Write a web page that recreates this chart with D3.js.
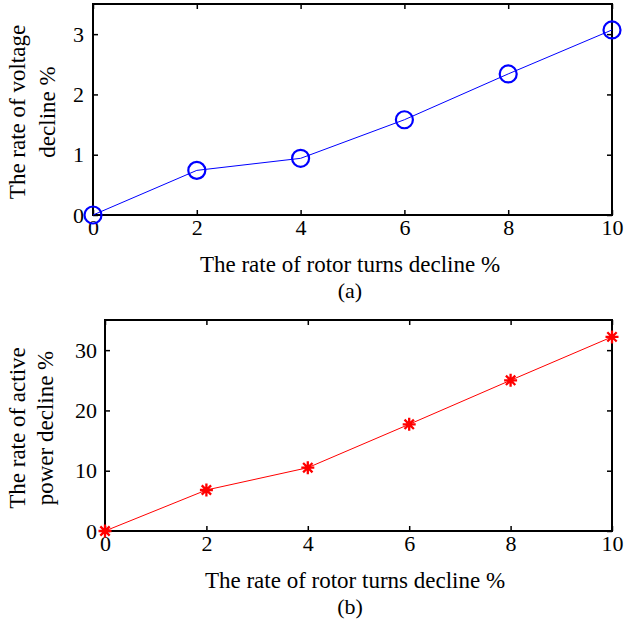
<!DOCTYPE html>
<html><head><meta charset="utf-8">
<script src="https://cdn.jsdelivr.net/npm/d3@7"></script>
<style>
body{margin:0;background:#fff;}
text{font-family:"Liberation Serif","Times New Roman",serif;}
</style></head>
<body><svg id="c" width="625" height="621"></svg>
<script>
const xValues = [0, 2, 4, 6, 8, 10];
const voltageDecline = [0, 0.74, 0.94, 1.58, 2.34, 3.07];
const powerDecline = [0, 6.8, 10.5, 17.7, 25.0, 32.2];
const xTicks = [0, 2, 4, 6, 8, 10];
const yTicksA = [0, 1, 2, 3];
const yTicksB = [0, 10, 20, 30];
const xTitle = "The rate of rotor turns decline %";

const svg = d3.select("#c");

function panel(cfg){
  const g = svg.append("g");
  const x = d3.scaleLinear().domain([0,10]).range([cfg.left, 612]);
  const y = d3.scaleLinear().domain(cfg.yDomain).range([cfg.bottom, cfg.top]);
  const fs = 22;
  g.append("rect").attr("x", cfg.left).attr("y", cfg.top)
    .attr("width", 612-cfg.left).attr("height", cfg.bottom-cfg.top)
    .attr("fill","none").attr("stroke","#000").attr("stroke-width",2);
  const xa = g.append("g").attr("transform",`translate(0,${cfg.bottom})`)
    .call(d3.axisBottom(x).tickValues(xTicks).tickFormat(d3.format("d")).tickSizeInner(-5).tickSizeOuter(0).tickPadding(4));
  const xt = g.append("g").attr("transform",`translate(0,${cfg.top})`)
    .call(d3.axisTop(x).tickValues(xTicks).tickSizeInner(-5).tickSizeOuter(0).tickFormat(""));
  const ya = g.append("g").attr("transform",`translate(${cfg.left},0)`)
    .call(d3.axisLeft(y).tickValues(cfg.yTicks).tickFormat(d3.format("d")).tickSizeInner(-5).tickSizeOuter(0).tickPadding(cfg.ypad));
  const yr = g.append("g").attr("transform",`translate(612,0)`)
    .call(d3.axisRight(y).tickValues(cfg.yTicks).tickSizeInner(-5).tickSizeOuter(0).tickFormat(""));
  [xa,xt,ya,yr].forEach(a=>{
    a.select(".domain").remove();
    a.selectAll(".tick line").attr("stroke","#000").attr("stroke-width",1.5);
    a.selectAll("text").attr("fill","#000").style("font-size",fs+"px")
      .style("font-family",'"Liberation Serif","Times New Roman",serif');
  });
  const pts = xValues.map((v,i)=>[v,cfg.values[i]]);
  g.append("path").datum(pts)
    .attr("d", d3.line().x(d=>x(d[0])).y(d=>y(d[1])))
    .attr("fill","none").attr("stroke",cfg.color).attr("stroke-width",1);
  if(cfg.marker==="circle"){
    g.selectAll("circle.m").data(pts).join("circle")
      .attr("cx",d=>x(d[0])).attr("cy",d=>y(d[1])).attr("r",8.5)
      .attr("fill","none").attr("stroke",cfg.color).attr("stroke-width",2.2);
  } else {
    const s = 6.5;
    const k = s*0.72;
    const star = `M${-s},0L${s},0M0,${-s}L0,${s}M${-k},${-k}L${k},${k}M${-k},${k}L${k},${-k}`;
    g.selectAll("path.m").data(pts).join("path").attr("class","m")
      .attr("transform",d=>`translate(${x(d[0])},${y(d[1])})`)
      .attr("d",star).attr("stroke",cfg.color).attr("stroke-width",2.3).attr("fill","none");
  }
  g.append("text").attr("x",cfg.xtc).attr("y",cfg.bottom+57)
    .attr("text-anchor","middle").style("font-size","23px").text(xTitle);
  g.append("text").attr("x",350).attr("y",cfg.bottom+83)
    .attr("text-anchor","middle").style("font-size","22px").text(cfg.label);
  const yl = g.append("text").attr("transform",`translate(0,${cfg.ycenter}) rotate(-90)`)
    .attr("text-anchor","middle").style("font-size","23px");
  yl.append("tspan").attr("x",0).attr("y",25).text(cfg.ytitle[0]);
  yl.append("tspan").attr("x",0).attr("y",cfg.l2).text(cfg.ytitle[1]);
}

panel({left:93, top:4, bottom:215, yDomain:[0,3.5], yTicks:yTicksA, values:voltageDecline,
  color:"#0000ff", marker:"circle", label:"(a)", ycenter:112, xtc:350, ypad:9, l2:55,
  ytitle:["The rate of voltage","decline %"]});
panel({left:105, top:320, bottom:531, yDomain:[0,35], yTicks:yTicksB, values:powerDecline,
  color:"#ff0000", marker:"star", label:"(b)", ycenter:428, xtc:355, ypad:8, l2:53,
  ytitle:["The rate of active","power decline %"]});
</script></body></html>
